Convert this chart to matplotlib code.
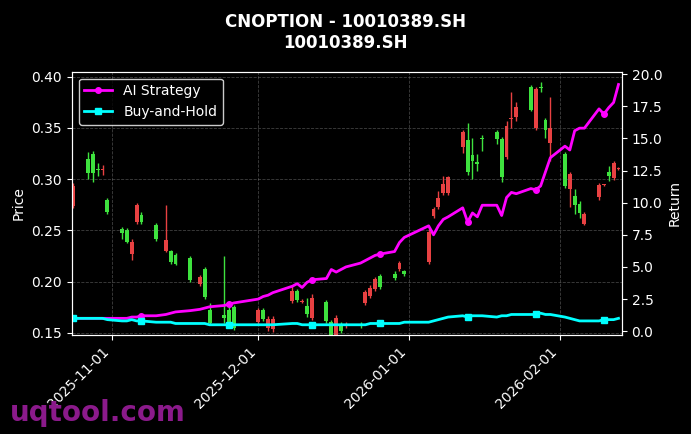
import numpy as np
import pandas as pd
import matplotlib.pyplot as plt
import matplotlib.dates as mdates

# candle data
dates = ["2025-10-24", "2025-10-27", "2025-10-28", "2025-10-29", "2025-10-30", "2025-10-31",
         "2025-11-03", "2025-11-04", "2025-11-05", "2025-11-06", "2025-11-07", "2025-11-10",
         "2025-11-12", "2025-11-13", "2025-11-14", "2025-11-17", "2025-11-19", "2025-11-20",
         "2025-11-21", "2025-11-24", "2025-11-25", "2025-11-26", "2025-12-01", "2025-12-02",
         "2025-12-03", "2025-12-04", "2025-12-08", "2025-12-09", "2025-12-10", "2025-12-11",
         "2025-12-12", "2025-12-15", "2025-12-16", "2025-12-17", "2025-12-18", "2025-12-19",
         "2025-12-22", "2025-12-23", "2025-12-24", "2025-12-25", "2025-12-26", "2025-12-29",
         "2025-12-30", "2025-12-31", "2026-01-05", "2026-01-06", "2026-01-07", "2026-01-08",
         "2026-01-09", "2026-01-12", "2026-01-13", "2026-01-14", "2026-01-15", "2026-01-16",
         "2026-01-19", "2026-01-20", "2026-01-21", "2026-01-22", "2026-01-23", "2026-01-26",
         "2026-01-27", "2026-01-28", "2026-01-29", "2026-01-30", "2026-02-02", "2026-02-03",
         "2026-02-04", "2026-02-05", "2026-02-06", "2026-02-09", "2026-02-10", "2026-02-11",
         "2026-02-12", "2026-02-13"]
opens = [0.274, 0.320, 0.325, 0.310, 0.309, 0.280,
         0.251, 0.250, 0.227, 0.258, 0.265, 0.255,
         0.230, 0.230, 0.226, 0.223, 0.198, 0.212,
         0.172, 0.168, 0.172, 0.175, 0.161, 0.172,
         0.155, 0.154, 0.181, 0.191, 0.180, 0.176,
         0.165, 0.180, 0.161, 0.147, 0.159, 0.157,
         0.159, 0.179, 0.186, 0.193, 0.206, 0.208,
         0.212, 0.210, 0.219, 0.264, 0.273, 0.287,
         0.287, 0.331, 0.338, 0.324, 0.317, 0.340,
         0.346, 0.339, 0.322, 0.359, 0.361, 0.390,
         0.350, 0.390, 0.358, 0.335, 0.325, 0.290,
         0.284, 0.276, 0.256, 0.283, 0.294, 0.307,
         0.301, 0.310]
closes = [0.293, 0.306, 0.306, 0.309, 0.310, 0.268,
          0.248, 0.239, 0.239, 0.275, 0.258, 0.242,
          0.241, 0.219, 0.217, 0.202, 0.205, 0.185,
          0.160, 0.165, 0.158, 0.155, 0.172, 0.164,
          0.164, 0.164, 0.191, 0.182, 0.181, 0.169,
          0.184, 0.162, 0.147, 0.165, 0.152, 0.158,
          0.157, 0.190, 0.194, 0.203, 0.195, 0.204,
          0.218, 0.208, 0.249, 0.271, 0.282, 0.295,
          0.302, 0.346, 0.307, 0.318, 0.315, 0.339,
          0.339, 0.302, 0.352, 0.359, 0.370, 0.368,
          0.388, 0.389, 0.348, 0.350, 0.293, 0.305,
          0.275, 0.267, 0.266, 0.294, 0.294, 0.303,
          0.316, 0.310]
highs = [0.296, 0.327, 0.328, 0.316, 0.314, 0.282,
         0.253, 0.252, 0.242, 0.277, 0.268, 0.257,
         0.275, 0.231, 0.228, 0.225, 0.207, 0.214,
         0.179, 0.225, 0.175, 0.177, 0.174, 0.174,
         0.167, 0.167, 0.197, 0.193, 0.183, 0.184,
         0.188, 0.182, 0.163, 0.168, 0.161, 0.161,
         0.161, 0.192, 0.197, 0.205, 0.208, 0.210,
         0.220, 0.211, 0.251, 0.273, 0.289, 0.303,
         0.303, 0.348, 0.355, 0.340, 0.325, 0.343,
         0.348, 0.341, 0.357, 0.385, 0.375, 0.392,
         0.390, 0.395, 0.360, 0.380, 0.327, 0.307,
         0.290, 0.279, 0.268, 0.296, 0.295, 0.313,
         0.318, 0.312]
lows = [0.272, 0.300, 0.297, 0.303, 0.304, 0.266,
        0.242, 0.238, 0.221, 0.256, 0.256, 0.240,
        0.229, 0.217, 0.216, 0.200, 0.196, 0.183,
        0.158, 0.160, 0.155, 0.153, 0.159, 0.162,
        0.152, 0.151, 0.179, 0.180, 0.179, 0.166,
        0.163, 0.160, 0.146, 0.146, 0.150, 0.155,
        0.155, 0.177, 0.184, 0.191, 0.193, 0.202,
        0.210, 0.206, 0.217, 0.262, 0.271, 0.285,
        0.285, 0.326, 0.304, 0.300, 0.308, 0.328,
        0.334, 0.297, 0.320, 0.350, 0.357, 0.367,
        0.348, 0.385, 0.340, 0.318, 0.291, 0.273,
        0.266, 0.262, 0.255, 0.280, 0.293, 0.298,
        0.299, 0.309]

# cumulative returns
strategy = [1.0, 1.0, 1.0, 1.0, 1.0, 1.0,
            1.0, 1.0, 1.1, 1.1, 1.2, 1.2,
            1.3, 1.4, 1.5, 1.6, 1.7, 1.8,
            1.9, 2.0, 2.1, 2.2, 2.5, 2.7,
            2.8, 3.0, 3.5, 3.7, 3.4, 3.8,
            4.0, 4.1, 4.8, 4.6, 4.8, 5.0,
            5.3, 5.5, 5.7, 5.9, 6.0, 6.2,
            6.9, 7.3, 8.2, 7.5, 8.2, 8.7,
            8.9, 9.6, 8.5, 9.2, 8.9, 9.8,
            9.8, 9.0, 10.4, 10.8, 10.7, 11.1,
            11.0, 11.3, 12.4, 13.5, 14.4, 14.1,
            15.6, 15.8, 15.8, 17.3, 16.9, 17.4,
            17.8, 19.2]
buyhold = [1.0, 1.0, 1.0, 1.0, 1.0, 0.9,
           0.8, 0.8, 0.9, 0.8, 0.8, 0.7,
           0.7, 0.7, 0.6, 0.6, 0.6, 0.6,
           0.5, 0.5, 0.5, 0.5, 0.5, 0.5,
           0.5, 0.5, 0.6, 0.6, 0.5, 0.5,
           0.5, 0.5, 0.5, 0.5, 0.5, 0.5,
           0.5, 0.5, 0.6, 0.6, 0.6, 0.6,
           0.6, 0.7, 0.7, 0.8, 0.9, 1.0,
           1.1, 1.2, 1.1, 1.2, 1.2, 1.2,
           1.1, 1.2, 1.2, 1.3, 1.3, 1.3,
           1.3, 1.4, 1.3, 1.3, 1.1, 1.0,
           0.9, 0.8, 0.8, 0.8, 0.9, 0.9,
           0.9, 1.0]

d = pd.to_datetime(dates)
x = mdates.date2num(d)

plt.style.use('dark_background')
fig, ax = plt.subplots(figsize=(6.91, 4.34), dpi=100)
fig.patch.set_facecolor('black')
ax.set_facecolor('black')

for xi, o, c, h, l in zip(x, opens, closes, highs, lows):
    col = '#e84142' if c >= o else '#3ee23e'
    ax.vlines(xi, l, h, color=col, linewidth=1)
    ax.bar(xi, abs(c - o) if abs(c - o) > 0.001 else 0.001, width=0.8,
           bottom=min(o, c), color=col)

ax.set_ylabel("Price", color='white')
ax.set_ylim(0.148, 0.405)
ax.set_yticks([0.15, 0.20, 0.25, 0.30, 0.35, 0.40])
ax.set_xlim(mdates.date2num(pd.Timestamp("2025-10-24")) - 0.3,
            mdates.date2num(pd.Timestamp("2026-02-14")) - 0.3)
ax.xaxis.set_major_locator(mdates.MonthLocator())
ax.xaxis.set_major_formatter(mdates.DateFormatter('%Y-%m-%d'))
plt.setp(ax.get_xticklabels(), rotation=45, ha='right')
ax.grid(True, linestyle='--', color='gray', alpha=0.5, linewidth=0.6)

ax2 = ax.twinx()
ax2.plot(x, strategy, color='#ff00ff', linewidth=2, marker='o', markersize=4,
         markevery=10, label='AI Strategy')
ax2.plot(x, buyhold, color='#00ffff', linewidth=2, marker='s', markersize=4,
         markevery=10, label='Buy-and-Hold')
ax2.set_ylabel("Return", color='white')
ax2.set_ylim(-0.3, 20.2)
ax2.set_yticks(np.arange(0, 20.1, 2.5))
ax2.legend(loc='upper left', facecolor='black', edgecolor='white')

fig.suptitle("CNOPTION - 10010389.SH\n10010389.SH", fontweight='bold', fontsize=12, y=0.97)
fig.text(0.015, 0.03, "uqtool.com", color='#8b1a8b', fontsize=20, fontweight='bold')
plt.subplots_adjust(left=0.104, right=0.9, top=0.835, bottom=0.228)
plt.savefig("out.png", dpi=100, facecolor='black')
